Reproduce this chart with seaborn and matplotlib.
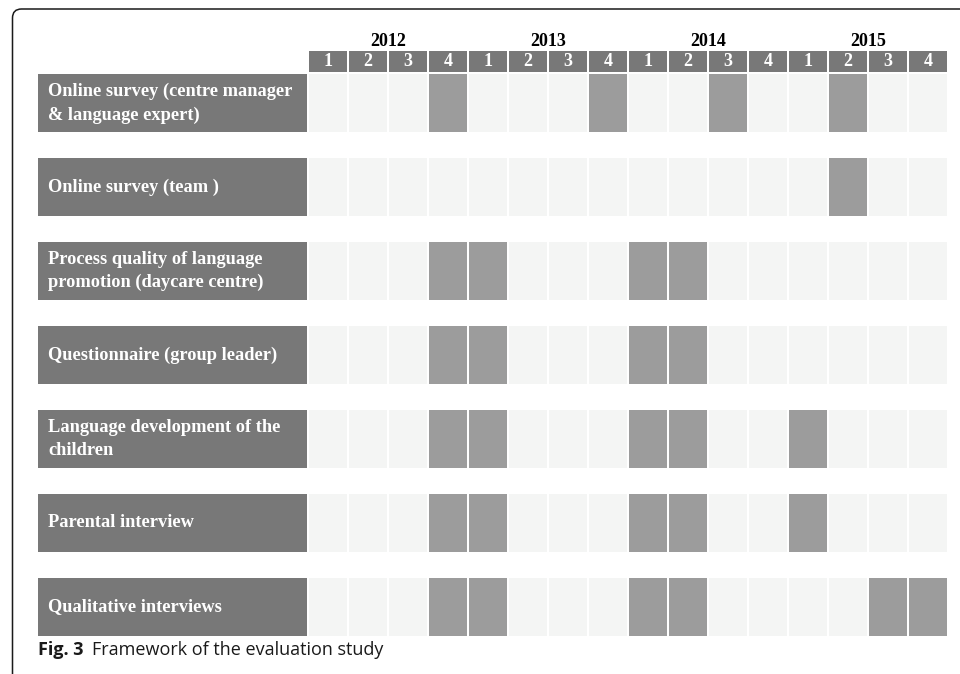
"""
plot.py
Gantt-style timetable: framework of the evaluation study (quarters 2012-2015).
"""

import matplotlib
matplotlib.use("Agg")
import matplotlib.pyplot as plt
import seaborn as sns
from matplotlib.patches import FancyBboxPatch


# -----------------------------
# Data
# -----------------------------
YEARS = ["2012", "2013", "2014", "2015"]
QUARTERS = ["1", "2", "3", "4"]

ACTIVITIES = [
    "Online survey (centre manager\n& language expert)",
    "Online survey (team )",
    "Process quality of language\npromotion (daycare centre)",
    "Questionnaire (group leader)",
    "Language development of the\nchildren",
    "Parental interview",
    "Qualitative interviews",
]

# active quarters per activity, as (year, quarter)
ACTIVE = [
    [("2012", "4"), ("2013", "4"), ("2014", "3"), ("2015", "2")],
    [("2015", "2")],
    [("2012", "4"), ("2013", "1"), ("2014", "1"), ("2014", "2")],
    [("2012", "4"), ("2013", "1"), ("2014", "1"), ("2014", "2")],
    [("2012", "4"), ("2013", "1"), ("2014", "1"), ("2014", "2"), ("2015", "1")],
    [("2012", "4"), ("2013", "1"), ("2014", "1"), ("2014", "2"), ("2015", "1")],
    [("2012", "4"), ("2013", "1"), ("2014", "1"), ("2014", "2"), ("2015", "3"), ("2015", "4")],
]

CAPTION_BOLD = "Fig. 3"
CAPTION_TEXT = "Framework of the evaluation study"

# -----------------------------
# Style
# -----------------------------
LABEL_GREY = "#787878"
ACTIVE_GREY = "#9c9c9c"
EMPTY_GREY = "#f4f5f4"
SERIF = "Liberation Serif"

CELL_W = 0.95   # quarter cell width (1 unit = one quarter)
ROW_H = 0.69    # activity bar height (1 unit = one row pitch)


def main() -> None:
    sns.set_theme(style="white")
    plt.rcParams["font.family"] = ["Liberation Serif", "DejaVu Serif"]

    fig = plt.figure(figsize=(9.6, 6.74), dpi=100)
    ax = fig.add_axes([0, 0, 1, 1])
    ax.set_xlim(-7.725, 16.275)
    ax.set_ylim(7.143, -0.881)
    ax.axis("off")

    slots = [(y, q) for y in YEARS for q in QUARTERS]
    n = len(slots)

    # year labels and quarter header
    for i, year in enumerate(YEARS):
        ax.text(i * 4 + 2 - 0.025, -0.39, year, ha="center", va="center",
                fontsize=13, fontweight="bold", color="black", family=SERIF)
    ax.bar(range(n), 0.25, bottom=-0.274, width=CELL_W, align="edge",
           color=LABEL_GREY, linewidth=0)
    for i, (_, q) in enumerate(slots):
        ax.text(i + CELL_W / 2, -0.145, q, ha="center", va="center",
                fontsize=13, fontweight="bold", color="white", family=SERIF)

    # activity rows
    for r, (label, active) in enumerate(zip(ACTIVITIES, ACTIVE)):
        ax.bar(-6.775, ROW_H, bottom=r, width=6.725, align="edge",
               color=LABEL_GREY, linewidth=0)
        ax.text(-6.525, r + ROW_H / 2, label, ha="left", va="center",
                fontsize=13.2, fontweight="bold", color="white", family=SERIF,
                linespacing=1.5)
        colors = [ACTIVE_GREY if s in active else EMPTY_GREY for s in slots]
        ax.bar(range(n), ROW_H, bottom=r, width=CELL_W, align="edge",
               color=colors, linewidth=0)

    # caption
    cap = fig.text(38 / 960, 1 - 650 / 674, CAPTION_BOLD, ha="left", va="center",
                   fontsize=13, fontweight="bold", family="Open Sans", color="#1a1a1a")
    fig.canvas.draw()
    bb = cap.get_window_extent()
    fig.text((bb.x1 + 9) / 960, 1 - 650 / 674, CAPTION_TEXT, ha="left", va="center",
             fontsize=13, family="Open Sans", color="#1a1a1a")

    # rounded frame (only top and left edges visible)
    frame = FancyBboxPatch((0.125, -1.0), 12.0, 6.65 + 1.0,
                           boxstyle="round,pad=0,rounding_size=0.09",
                           transform=fig.dpi_scale_trans, facecolor="none",
                           edgecolor="#1a1a1a", linewidth=1.1)
    fig.add_artist(frame)

    fig.savefig("out.png", dpi=100)
    plt.close(fig)


if __name__ == "__main__":
    main()
